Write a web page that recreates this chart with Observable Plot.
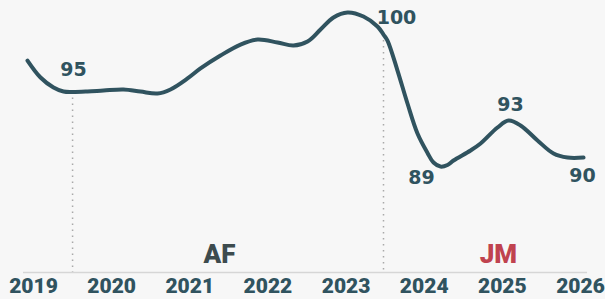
<!DOCTYPE html>
<html><head><meta charset="utf-8">
<script src="https://cdn.jsdelivr.net/npm/d3@7"></script>
<script src="https://cdn.jsdelivr.net/npm/@observablehq/plot@0.6"></script>
<style>html,body{margin:0;padding:0;background:#f7f7f7;} svg{display:block}</style>
</head><body><div id="chart"></div><script>
// Smoothed series (year, value)
const years  = [2018.923,2019.090,2019.256,2019.384,2019.499,2019.691,2019.896,2020.152,2020.369,2020.587,2020.753,2020.971,2021.137,2021.393,2021.649,2021.867,2022.123,2022.327,2022.507,2022.673,2022.839,2023.018,2023.223,2023.402,2023.479,2023.530,2023.658,2023.786,2023.914,2024.042,2024.119,2024.208,2024.298,2024.375,2024.593,2024.721,2024.938,2025.079,2025.233,2025.450,2025.655,2025.834,2026.039];
const values = [97.62,96.23,95.41,95.08,95.04,95.08,95.16,95.25,95.08,94.92,95.25,96.15,96.97,98.03,98.93,99.34,99.10,98.85,99.18,100.16,101.15,101.56,101.23,100.41,99.75,99.26,96.80,94.10,91.64,90.05,89.26,88.93,89.06,89.43,90.25,90.82,92.13,92.70,92.30,91.07,90.00,89.67,89.67];
// Labelled points
const labelTexts  = ["95","100","89","93","90"];
const labelYears  = [2019.5,2023.479,2024.208,2025.079,2026.039];
const labelValues = [95.04,99.75,88.93,92.70,89.67];
// Period markers
const markerYears  = [2019.5,2023.479];
const markerValues = [95.04,99.75];
const periodNames = ["AF","JM"];
const periodYears = [2021.38,2024.95];
const tickYears = [2019,2020,2021,2022,2023,2024,2025,2026];

const lineColor = "#30535f";
const series = years.map((y,i)=>({year:y,value:values[i]}));
const labels = labelTexts.map((t,i)=>({text:t,year:labelYears[i],value:labelValues[i]}));
const markers = markerYears.map((y,i)=>({year:y,value:markerValues[i]}));
const periods = periodNames.map((n,i)=>({name:n,year:periodYears[i]}));
const yMin = 80.25;
const offsets = [[1,-22],[13,-17],[-19,11],[2,-16],[-1,18]];
const font = "Roboto, 'Open Sans', sans-serif";

const chart = Plot.plot({
  width:605, height:299,
  marginTop:0, marginBottom:27, marginLeft:33, marginRight:25,
  x:{domain:[2019,2026], label:null},
  y:{domain:[yMin,102.54], axis:null},
  style:{background:"#f7f7f7", fontFamily:font},
  marks:[
    Plot.ruleY([yMin],{x1:2018.872, x2:2026.09, stroke:"#d6d6d6", strokeWidth:1.5}),
    Plot.ruleX(markers,{x:"year", y1:"value", y2:yMin, stroke:"#a9a9a9", strokeWidth:1.5, strokeDasharray:"1.5,4.5"}),
    Plot.line(series,{x:"year", y:"value", curve:"catmull-rom", stroke:lineColor, strokeWidth:4}),
    ...labels.map((d,i)=>Plot.text([d],{x:"year", y:"value", text:"text", dx:offsets[i][0], dy:offsets[i][1], fill:lineColor, fontSize:19, fontWeight:"bold", fontFamily:"'DejaVu Sans', sans-serif", textAnchor:"middle", lineAnchor:"middle"})),
    Plot.text(periods,{x:"year", y:yMin, text:"name", dy:-10, lineAnchor:"bottom", fontSize:26, fontWeight:900, fill:(d)=>d.name==="JM"?"#c0434f":"#3d4b4e"}),
    Plot.axisX({ticks:tickYears, tickFormat:d=>String(d), tickSize:0, tickPadding:6, fontSize:21, fontWeight:900, color:lineColor, label:null})
  ]
});
document.getElementById("chart").appendChild(chart);
</script></body></html>
